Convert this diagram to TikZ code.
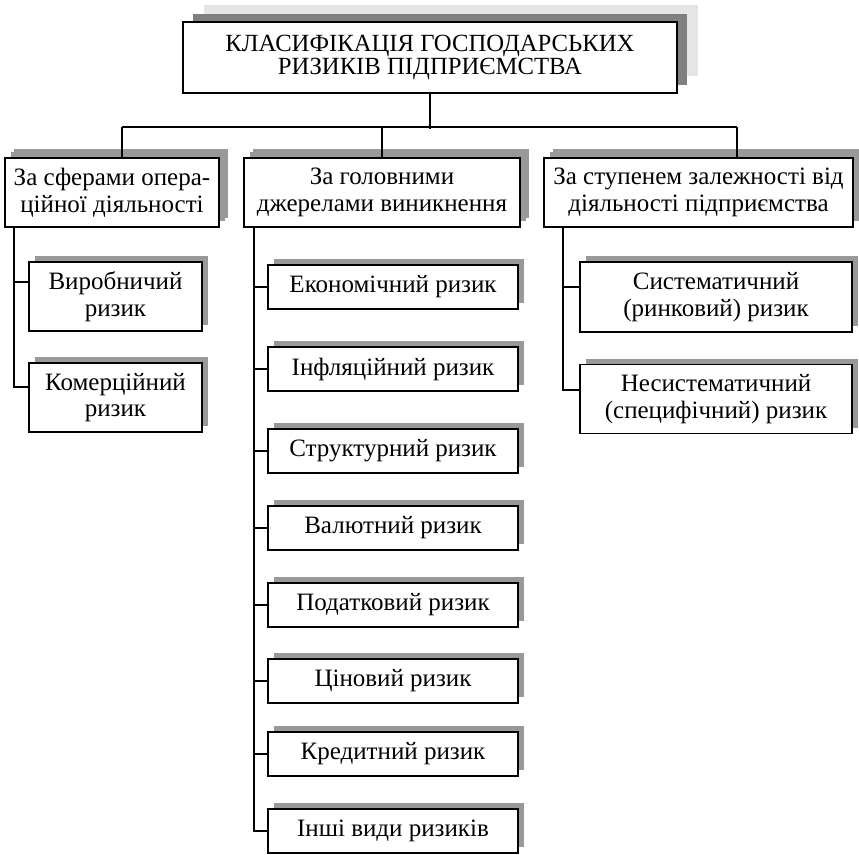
\documentclass[tikz,border=0pt]{standalone}
\usepackage{fontspec}
\setmainfont{Liberation Serif}
\usetikzlibrary{shadows,calc}
\tikzset{
  box/.style={draw, line width=1.8pt, fill=white, align=center, inner sep=0pt,
    font=\fontsize{25}{26.5}\selectfont,
    drop shadow={shadow xshift=6pt, shadow yshift=6pt, fill=black!40, opacity=1}},
  headbox/.style={draw, line width=2pt, fill=white, align=center, inner sep=0pt,
    font=\fontsize{24.7}{23}\selectfont,
    drop shadow={shadow xshift=21pt, shadow yshift=17pt, fill=black!10, opacity=1},
    drop shadow={shadow xshift=10pt, shadow yshift=8pt, fill=black!50, opacity=1}},
  catbox/.style={box, drop shadow={shadow xshift=9pt, shadow yshift=9pt, fill=black!40, opacity=1}},
  conn/.style={line width=1.5pt}
}
\begin{document}
\begin{tikzpicture}[x=1pt,y=-1pt]
\useasboundingbox (0,0) rectangle (859,854);
\fill[white] (0,0) rectangle (859,854);

\node[headbox, minimum width=494pt, minimum height=71pt] (top) at (430,57.5)
  {КЛАСИФІКАЦІЯ ГОСПОДАРСЬКИХ\\РИЗИКІВ ПІДПРИЄМСТВА};

\node[catbox, minimum width=214pt, minimum height=69pt] (lh) at (112,192.5)
  {За сферами опера-\\ційної діяльності};
\node[catbox, minimum width=276pt, minimum height=69pt] (mh) at (382,192.5)
  {За головними\\джерелами виникнення};
\node[catbox, minimum width=309pt, minimum height=69pt] (rh) at (698.5,192.5)
  {За ступенем залежності від\\діяльності підприємства};

\node[box, minimum width=173pt, minimum height=69pt] (vyr) at (115.5,296.5) {Виробничий\\ризик};
\node[box, minimum width=173pt, minimum height=69pt] (kom) at (115.5,397.5) {Комерційний\\ризик};

\node[box, minimum width=272pt, minimum height=70pt] (sys) at (716,297) {Систематичний\\(ринковий) ризик};
\node[box, minimum width=272pt, minimum height=69pt] (nes) at (716,399) {Несистематичний\\(специфічний) ризик};

\node[box, minimum width=250pt, minimum height=44pt] (m1) at (393,287) {Економічний ризик};
\node[box, minimum width=250pt, minimum height=44pt] (m2) at (393,369) {Інфляційний ризик};
\node[box, minimum width=250pt, minimum height=44pt] (m3) at (393,451) {Структурний ризик};
\node[box, minimum width=250pt, minimum height=44pt] (m4) at (393,528) {Валютний ризик};
\node[box, minimum width=250pt, minimum height=44pt] (m5) at (393,605) {Податковий ризик};
\node[box, minimum width=250pt, minimum height=44pt] (m6) at (393,681) {Ціновий ризик};
\node[box, minimum width=250pt, minimum height=44pt] (m7) at (393,754) {Кредитний ризик};
\node[box, minimum width=250pt, minimum height=44pt] (m8) at (393,831) {Інші види ризиків};

% top-level connectors
\coordinate (bl) at (122,127);
\coordinate (bm) at (382,127);
\coordinate (br) at (737,127);
\coordinate (bt) at (430,129);
\draw[conn] (top.south) -- (bt);
\draw[conn] (bl) -- (br);
\draw[conn] (bl) -- (bl |- lh.north);
\draw[conn] (bm) -- (bm |- mh.north);
\draw[conn] (br) -- (br |- rh.north);

% left column
\coordinate (lt) at (14,227);
\coordinate (l1) at (14,282);
\coordinate (l2) at (14,387);
\draw[conn] (lt) |- (vyr.west |- l1);
\draw[conn] (lt) |- (kom.west |- l2);

% right column
\coordinate (rt) at (563,227);
\coordinate (r1) at (563,287);
\coordinate (r2) at (563,390);
\draw[conn] (rt) |- (sys.west |- r1);
\draw[conn] (rt) |- (nes.west |- r2);

% middle column
\coordinate (mt) at (254,227);
\foreach \i in {1,...,8}{
  \draw[conn] (mt) |- (m\i.west);
}
\end{tikzpicture}
\end{document}
